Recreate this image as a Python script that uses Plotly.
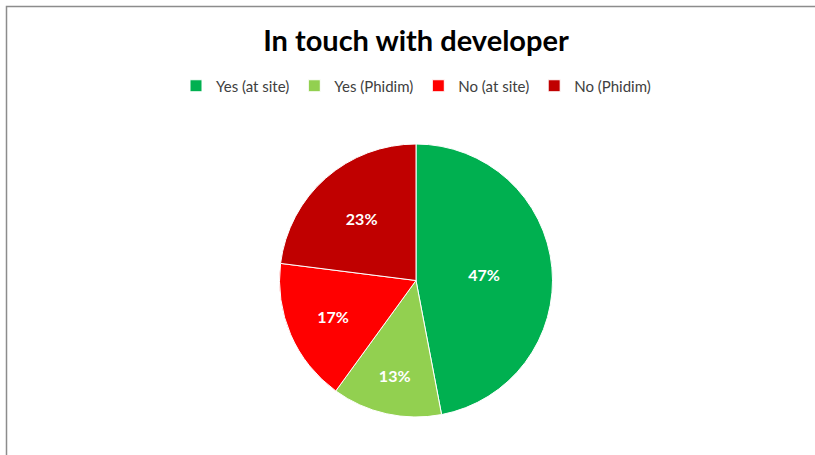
import plotly.graph_objects as go

labels = ["Yes (at site)", "Yes (Phidim)", "No (at site)", "No (Phidim)"]
values = [47, 13, 17, 23]
colors = ["#00B050", "#92D050", "#FF0000", "#C00000"]

W, H = 815, 455

fig = go.Figure(go.Pie(
    labels=labels,
    values=values,
    sort=False,
    direction="clockwise",
    rotation=0,
    marker=dict(colors=colors, line=dict(color="white", width=1)),
    textinfo="percent",
    texttemplate="%{percent:.0%}",
    textposition="inside",
    insidetextorientation="horizontal",
    textfont=dict(family="Lato", size=16, color="white", weight="bold"),
    domain=dict(x=[279 / W, 553 / W], y=[1 - 417 / H, 1 - 144 / H]),
    hoverinfo="label+percent",
))

fig.update_layout(
    width=W, height=H,
    margin=dict(l=0, r=0, t=0, b=0),
    paper_bgcolor="white",
    plot_bgcolor="white",
    title=dict(
        text="<b>In touch with developer</b>",
        x=416 / W, xanchor="center",
        y=1 - 41 / H, yanchor="middle",
        font=dict(family="Lato", size=29, color="black"),
    ),
    legend=dict(
        orientation="h",
        x=416 / W, xanchor="center",
        y=1 - 86 / H, yanchor="middle",
        font=dict(family="Lato", size=15, color="#404040"),
        traceorder="normal",
    ),
    shapes=[dict(
        type="rect", xref="paper", yref="paper",
        x0=6.5 / W, x1=1.05, y0=-0.05, y1=1 - 6.5 / H,
        line=dict(color="#8c8c8c", width=1.5),
        fillcolor="rgba(0,0,0,0)",
    )],
)

fig.write_html("out.html")
